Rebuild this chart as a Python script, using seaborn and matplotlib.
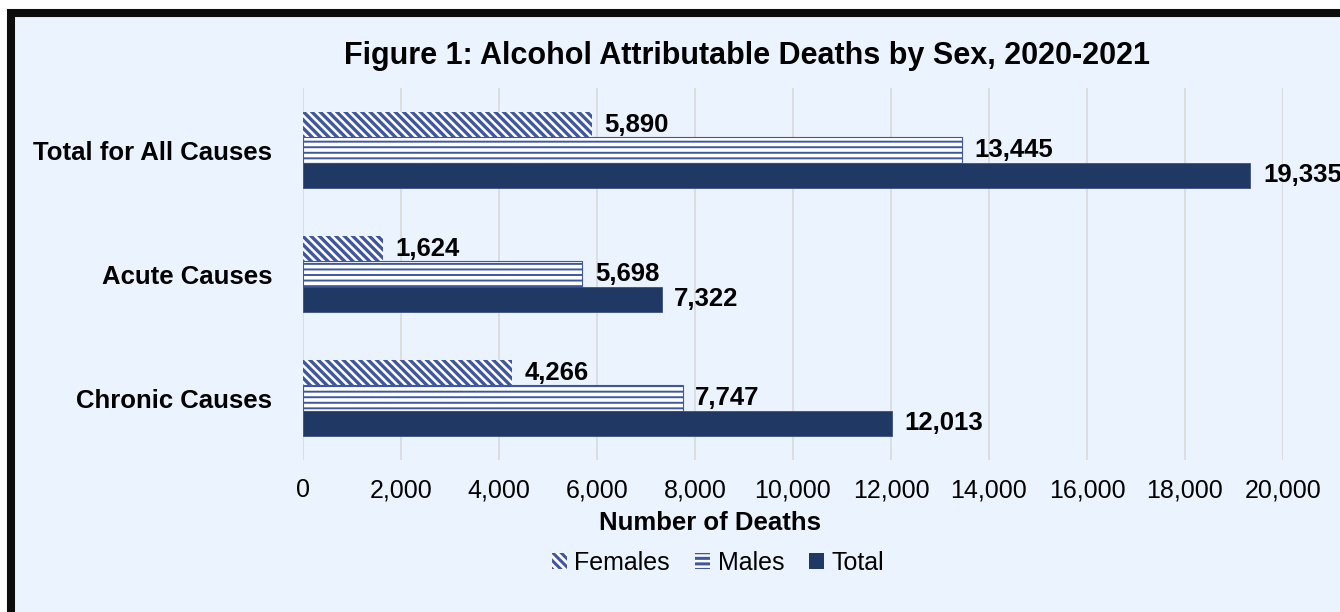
import matplotlib
matplotlib.use("Agg")
import matplotlib.pyplot as plt
from matplotlib.patches import Patch, Rectangle
from matplotlib.ticker import FuncFormatter
import seaborn as sns
import pandas as pd

causes = ["Total for All Causes", "Acute Causes", "Chronic Causes"]
females = [5890, 1624, 4266]
males = [13445, 5698, 7747]
total = [19335, 7322, 12013]
series_names = ["Females", "Males", "Total"]
x_ticks = [0, 2000, 4000, 6000, 8000, 10000, 12000, 14000, 16000, 18000, 20000]

title = "Figure 1: Alcohol Attributable Deaths by Sex, 2020-2021"
xlabel = "Number of Deaths"

BG = "#EAF3FE"
NAVY = "#203864"
HATCH = "#3F57A0"

sns.set_theme(style="white")
plt.rcParams["font.family"] = ["Liberation Sans", "DejaVu Sans"]
plt.rcParams["hatch.linewidth"] = 2.2
plt.rcParams["text.color"] = "black"

rows = []
for name, vals in zip(series_names, [females, males, total]):
    for c, v in zip(causes, vals):
        rows.append({"cause": c, "deaths": v, "sex": name})
df = pd.DataFrame(rows)

fig = plt.figure(figsize=(13.4, 6.12), dpi=100)
fig.patch.set_facecolor("white")
# chart area with black border (top/left visible)
fig.patches.append(Rectangle((11 / 1340, -0.05), 1.2, 1 - 13 / 612 + 0.05,
                             transform=fig.transFigure, facecolor=BG,
                             edgecolor="#0d0d0d", linewidth=5.8, zorder=-10))

ax = fig.add_axes([303 / 1340, 1 - 460 / 612, 980 / 1340, 372 / 612])
ax.set_facecolor(BG)

sns.barplot(data=df, x="deaths", y="cause", hue="sex", orient="h",
            order=causes, hue_order=series_names, width=0.615,
            palette=[NAVY, NAVY, NAVY], ax=ax, legend=False, saturation=1)

styles = [
    dict(facecolor="white", edgecolor=HATCH, hatch="\\\\\\\\", lw=0.0, hlw=2.4),
    dict(facecolor="white", edgecolor=HATCH, hatch="---", lw=0.8, hlw=1.4),
    dict(facecolor=NAVY, edgecolor="#3a5080", hatch=None, lw=0.6, hlw=1.0),
]
for cont, st, vals in zip(ax.containers, styles, [females, males, total]):
    for p in cont:
        p.set_facecolor(st["facecolor"])
        p.set_edgecolor(st["edgecolor"])
        p.set_linewidth(st["lw"])
        if st["hatch"]:
            p.set_hatch(st["hatch"])
            if hasattr(p, "set_hatch_linewidth"):
                p.set_hatch_linewidth(st["hlw"])
    ax.bar_label(cont, labels=[f"{v:,}" for v in vals], padding=9,
                 fontsize=18.5, fontweight="bold", color="black", clip_on=False)

ax.set_xlim(0, 20000)
ax.set_xticks(x_ticks)
ax.xaxis.set_major_formatter(FuncFormatter(lambda v, p: f"{int(v):,}"))
ax.grid(axis="x", color="#D9D9D9", linewidth=1.2)
ax.grid(axis="y", visible=False)
ax.set_axisbelow(True)
for s in ax.spines.values():
    s.set_visible(False)
ax.tick_params(axis="x", length=0, pad=13, labelsize=18, labelcolor="black")
ax.tick_params(axis="y", length=0, pad=22, labelsize=18.5, labelcolor="black")
for lab in ax.get_yticklabels():
    lab.set_fontweight("bold")

ax.set_ylabel("")
ax.set_xlabel(xlabel, fontsize=18.5, fontweight="bold", color="black")
ax.xaxis.set_label_coords((710 - 303) / 980, (460 - 523) / 372)
ax.xaxis.label.set_va("center")

fig.text(747 / 1340, 1 - 56 / 612, title, ha="center", va="center",
         fontsize=22, fontweight="bold", color="black")

handles = []
for st, name in zip(styles, series_names):
    h = Patch(facecolor=st["facecolor"], edgecolor=st["edgecolor"],
              hatch=st["hatch"], linewidth=0, label=name)
    handles.append(h)
leg = fig.legend(handles=handles, loc="center", ncol=3,
                 bbox_to_anchor=(718 / 1340, 1 - 563 / 612), frameon=False,
                 fontsize=18, handlelength=0.6, handleheight=0.6,
                 handletextpad=0.3, columnspacing=1.0, labelcolor="black")

fig.savefig("out.png", dpi=100, facecolor=fig.get_facecolor())
